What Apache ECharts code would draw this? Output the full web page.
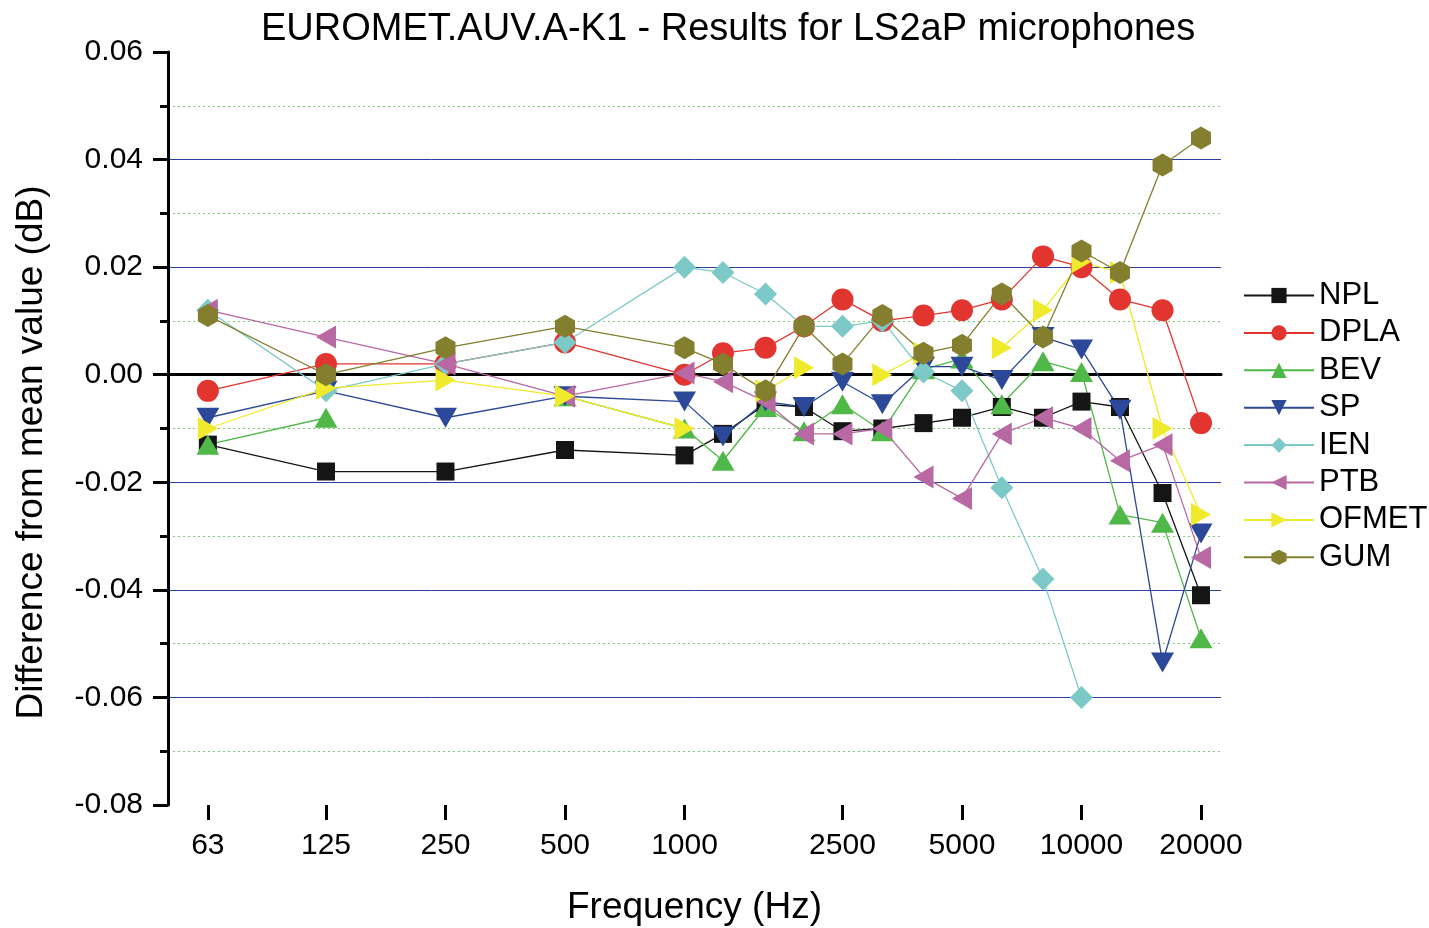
<!DOCTYPE html>
<html>
<head>
<meta charset="utf-8">
<script src="https://cdn.jsdelivr.net/npm/echarts@6/dist/echarts.min.js"></script>
<style>
html,body{margin:0;padding:0;background:#fff;}
#chart{width:1429px;height:928px;}
</style>
</head>
<body>
<div id="chart"></div>
<script>
// Frequencies (Hz)
var freqs = [63,125,250,500,1000,1250,1600,2000,2500,3150,4000,5000,6300,8000,10000,12500,16000,20000];
var xTickLabels = [63,125,250,500,1000,2500,5000,10000,20000];

// Difference from mean value (dB)
var NPL   = [-0.013,-0.018,-0.018,-0.014,-0.015,-0.011,-0.0055,-0.006,-0.0105,-0.010,-0.009,-0.008,-0.006,-0.008,-0.005,-0.006,-0.022,-0.041];
var DPLA  = [-0.003,0.002,0.002,0.006,0.000,0.004,0.005,0.009,0.014,0.010,0.011,0.012,0.014,0.022,0.020,0.014,0.012,-0.009];
var BEV   = [-0.013,-0.008,null,-0.004,-0.010,-0.016,-0.006,-0.0105,-0.0055,-0.0105,0.001,0.003,-0.0055,0.0025,0.0005,-0.026,-0.0275,-0.049];
var SP    = [-0.008,-0.003,-0.008,-0.004,-0.005,-0.0115,-0.005,-0.006,-0.0013,-0.0055,0.0015,0.0015,-0.001,0.007,0.0047,-0.0065,-0.0535,-0.0295];
var IEN   = [0.012,-0.003,0.002,0.006,0.020,0.019,0.015,0.009,0.009,0.010,0.0005,-0.003,-0.021,-0.038,-0.060,null,null,null];
var PTB   = [0.012,0.007,0.002,-0.004,0.0003,-0.0013,-0.005,-0.011,-0.011,-0.010,-0.019,-0.023,-0.011,-0.008,-0.010,-0.016,-0.013,-0.034];
var OFMET = [-0.010,-0.0025,-0.001,-0.004,-0.010,null,-0.003,0.0013,null,0.000,0.004,null,0.005,0.012,0.021,0.019,-0.010,-0.026];
var GUM   = [0.011,0.000,0.005,0.009,0.005,0.002,-0.003,0.009,0.002,0.011,0.004,0.0055,0.015,0.007,0.023,0.019,0.039,0.044];

var FONT = "'Liberation Sans', Arial, sans-serif";
var HEX = 'path://M0,-1L0.866,-0.5L0.866,0.5L0,1L-0.866,0.5L-0.866,-0.5Z';
var X_MIN = 50, X_MAX = 22460;

var seriesDefs = [
  {name:'NPL',   data:NPL,   color:'#151515', symbol:'rect',     size:18,      rot:0},
  {name:'DPLA',  data:DPLA,  color:'#e2352f', symbol:'circle',   size:22,      rot:0},
  {name:'BEV',   data:BEV,   color:'#4fb848', symbol:'triangle', size:[23,20], rot:0},
  {name:'SP',    data:SP,    color:'#2c4899', symbol:'triangle', size:[23,20], rot:180},
  {name:'IEN',   data:IEN,   color:'#7cc9c8', symbol:'diamond',  size:23,      rot:0},
  {name:'PTB',   data:PTB,   color:'#b868a3', symbol:'triangle', size:[23,20], rot:90},
  {name:'OFMET', data:OFMET, color:'#f0ea2c', symbol:'triangle', size:[23,20], rot:-90},
  {name:'GUM',   data:GUM,   color:'#837f2f', symbol:HEX,        size:[20,23], rot:0}
];

var series = seriesDefs.map(function(d, i){
  var s = {
    name: d.name,
    type: 'line',
    xAxisIndex: 0,
    data: freqs.map(function(f, k){ return [f, d.data[k]]; }),
    symbol: d.symbol,
    symbolSize: d.size,
    symbolRotate: d.rot,
    showAllSymbol: true,
    connectNulls: false,
    color: d.color,
    lineStyle: {color: d.color, width: 1.3},
    itemStyle: {color: d.color},
    animation: false
  };
  if (i === 0) {
    s.markLine = {
      silent: true, symbol: 'none', z: 1, animation: false,
      label: {show: false},
      lineStyle: {color: '#000', width: 3, type: 'solid'},
      data: [{yAxis: 0}]
    };
  }
  return s;
});

var chart = echarts.init(document.getElementById('chart'), null, {renderer: 'canvas'});
chart.setOption({
  backgroundColor: '#fff',
  animation: false,
  textStyle: {fontFamily: FONT},
  title: {
    text: 'EUROMET.AUV.A-K1 - Results for LS2aP microphones',
    left: 256, top: 6,
    textStyle: {fontFamily: FONT, fontSize: 38, fontWeight: 'normal', color: '#000'}
  },
  legend: {
    orient: 'vertical',
    left: 1243, top: 280, padding: 0,
    itemWidth: 70, itemHeight: 19, itemGap: 6.4,
    textStyle: {fontFamily: FONT, fontSize: 31, color: '#000', lineHeight: 30},
    data: seriesDefs.map(function(d){ return d.name; })
  },
  grid: {left: 168, right: 208, top: 52, bottom: 123, containLabel: false, outerBoundsMode: 'none'},
  xAxis: [{
    type: 'log', logBase: 10, min: X_MIN, max: X_MAX,
    name: 'Frequency (Hz)', nameLocation: 'middle', nameGap: 84,
    nameTextStyle: {fontFamily: FONT, fontSize: 37, color: '#000'},
    axisLine: {show: true, lineStyle: {color: '#000', width: 3}},
    axisTick: {show: false},
    axisLabel: {fontFamily: FONT, fontSize: 30, color: '#000', margin: 26, customValues: xTickLabels,
      formatter: function(v){ return String(Math.round(v)); }},
    splitLine: {show: false},
    minorTick: {show: false},
    minorSplitLine: {show: false}
  }, {
    // tick marks only, on the same log positions
    type: 'value', position: 'bottom',
    min: Math.log10(X_MIN), max: Math.log10(X_MAX),
    axisLine: {show: false},
    axisTick: {show: true, inside: false, length: 15, lineStyle: {color: '#000', width: 3},
      customValues: xTickLabels.map(function(v){ return Math.log10(v); })},
    axisLabel: {show: false},
    splitLine: {show: false}
  }],
  yAxis: {
    type: 'value', min: -0.08, max: 0.06, interval: 0.02,
    name: 'Difference from mean value (dB)', nameLocation: 'middle', nameGap: 118,
    nameTextStyle: {fontFamily: FONT, fontSize: 37, color: '#000', padding: [0, 48, 0, 0]},
    axisLine: {show: true, lineStyle: {color: '#000', width: 3}},
    axisTick: {show: true, inside: false, length: 15, lineStyle: {color: '#000', width: 3}},
    minorTick: {show: true, splitNumber: 2, length: 8, lineStyle: {color: '#000', width: 3}},
    axisLabel: {fontFamily: FONT, fontSize: 30, color: '#000', margin: 25,
      formatter: function(v){ return v.toFixed(2); }},
    splitLine: {show: true, showMinLine: false, showMaxLine: false,
      lineStyle: {width: 1, type: 'solid', color: '#2a3f9f'}},
    minorSplitLine: {show: true, lineStyle: {color: '#79cf6e', width: 1.2, type: [2, 3]}}
  },
  series: series
});
</script>
</body>
</html>
